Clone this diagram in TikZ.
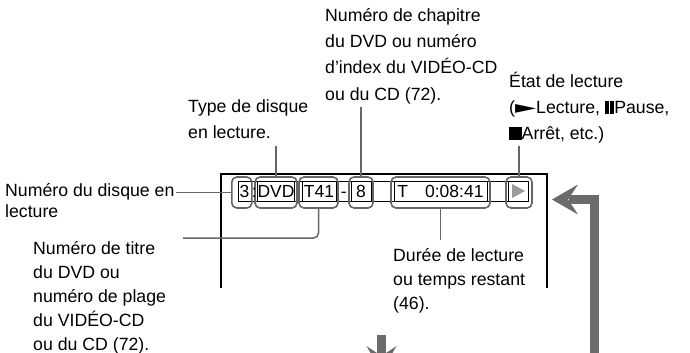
\documentclass[tikz,border=0pt]{standalone}
\usepackage{fontspec}
\setmainfont{Liberation Sans}
\newfontfamily\symfont{DejaVu Sans}
\usetikzlibrary{arrows.meta}
\newcommand\firstln{\rule{0pt}{17pt}}
\newcommand\pausesym{\rule{3.8pt}{12.5pt}\hspace{1.6pt}\rule{3.8pt}{12.5pt}}
\newcommand\stopsym{\rule{12.5pt}{12.5pt}}
\newcommand\playsym{{\symfont\scalebox{1.55}[1.0]{►}}}
\definecolor{calloutgray}{HTML}{666666}
\definecolor{arrowgray}{HTML}{6B6B6B}
\definecolor{playgray}{HTML}{9A9A9A}
\begin{document}
\begin{tikzpicture}[x=1pt,y=-1pt,
  txt/.style={inner sep=0pt, anchor=north west, align=left},
  lblA/.style={font=\fontsize{17.7}{26.3}\selectfont},
  lblB/.style={font=\fontsize{17.7}{24}\selectfont},
  lblC/.style={font=\fontsize{17.7}{21}\selectfont},
  disp/.style={draw=black, line width=0.9pt, inner sep=0pt, minimum height=20pt, font=\fontsize{17.5}{20}\selectfont},
  dtext/.style={inner sep=0pt, font=\fontsize{17.5}{20}\selectfont},
  hl/.style={draw=calloutgray, line width=1.6pt, rounded corners=5pt, minimum height=31pt, inner sep=0pt},
  callout/.style={draw=calloutgray, line width=1.5pt},
  frame/.style={draw=black, line width=1.3pt},
  bigarrow/.style={draw=arrowgray, line width=9pt, line join=miter}
]
\useasboundingbox (0,0) rectangle (690,353);

% screen frame
\draw[frame] (221,288) |- (547,174) -- (547,288);

% display strip
\draw[black, line width=0.9pt] (238,181) rectangle (528,201);
\node[disp, minimum width=13pt] (d3) at (244.5,191) {3};
\node[disp, minimum width=37pt] (ddvd) at (276,191) {DVD};
\node[disp, minimum width=34pt] (dt41) at (319,191) {T41};
\node[disp, minimum width=20pt] (d8) at (361,191) {8};
\node[disp, minimum width=93pt, fill=white] (dtime) at (440.5,191) {T\hspace{17pt}0:08:41};
\node[disp, minimum width=20pt, fill=white] (dplay) at (518,191) {};
\fill[playgray] (512,184) -- (525,191) -- (512,198) -- cycle;

% highlights
\node[hl, minimum width=20pt] (h3) at (241.8,192.5) {};
\node[hl, minimum width=42pt] (hdvd) at (276,192.5) {};
\node[hl, minimum width=39pt] (ht41) at (318.5,192.5) {};
\node[hl, minimum width=24pt] (h8) at (361,192.5) {};
\node[hl, minimum width=99pt] (htime) at (440.5,192.5) {};
\node[hl, minimum width=26pt] (hplay) at (519,192.5) {};

% separators drawn above the highlights
\node[dtext, anchor=base] (colon) at (254.2,197.3) {:};
\node[dtext, anchor=base] (dash) at (343.8,197.3) {-};

% labels
\node[txt, lblA] (chap) at (325,4) {\firstln Numéro de chapitre\\du DVD ou numéro\\d’index du VIDÉO-CD\\ou du CD (72).};
\node[txt, lblA] (type) at (188,95) {\firstln Type de disque\\en lecture.};
\node[txt, lblA] (etat) at (509,70) {\firstln État de lecture\\(\playsym Lecture, \pausesym Pause,\\\stopsym Arrêt, etc.)};
\node[txt, lblC] (disque) at (5,179) {\firstln Numéro du disque en\\lecture};
\node[txt, lblB] (titre) at (33,237) {\firstln Numéro de titre\\du DVD ou\\numéro de plage\\du VIDÉO-CD\\ou du CD (72).};
\node[txt, lblB] (duree) at (393,244) {\firstln Durée de lecture\\ou temps restant\\(46).};

% callout ends
\coordinate (disqueEnd) at (176,192.5);
\coordinate (titreEnd) at (183,238);
\coordinate (typeEnd) at (276,146);
\coordinate (chapEnd) at (361,107);
\coordinate (etatEnd) at (519,146);
\coordinate (dureeEnd) at (440.5,240);

\draw[callout] (disqueEnd) -- (h3.west);
\draw[callout, rounded corners=5pt] (titreEnd) -| (ht41.south);
\draw[callout] (typeEnd) -- (hdvd.north);
\draw[callout] (chapEnd) -- (h8.north);
\draw[callout] (etatEnd) -- (hplay.north);
\draw[callout] (dureeEnd) -- (htime.south);

% big arrows
\begin{scope}
\clip (0,0) rectangle (690,353);
\coordinate (rbot) at (594,360);
\coordinate (rturn) at (594,199.5);
\coordinate (rend) at (569,199.5);
\draw[bigarrow] (rbot) -- (rturn) -- (rend);
\fill[arrowgray] (552,199.5) -- (578,184.5) -- (568,199.5) -- (578,214.5) -- cycle;
\coordinate (dtop) at (381.5,335);
\coordinate (dbot) at (381.5,358);
\draw[bigarrow] (dtop) -- (dbot);
\fill[arrowgray] (381.5,372) -- (366.5,346) -- (381.5,356) -- (396.5,346) -- cycle;
\end{scope}
\end{tikzpicture}
\end{document}
